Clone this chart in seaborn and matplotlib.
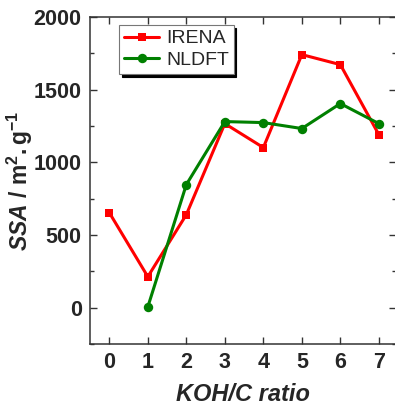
import matplotlib
matplotlib.use("Agg")
import matplotlib.pyplot as plt
import seaborn as sns
import pandas as pd

ratio_irena = [0, 1, 2, 3, 4, 5, 6, 7]
ssa_irena = [654, 213, 640, 1267, 1102, 1742, 1673, 1191]
ratio_nldft = [1, 2, 3, 4, 5, 6, 7]
ssa_nldft = [5, 847, 1281, 1274, 1233, 1405, 1267]
series_names = ["IRENA", "NLDFT"]
x_ticks = [0, 1, 2, 3, 4, 5, 6, 7]
y_ticks = [0, 500, 1000, 1500, 2000]

sns.set_style("ticks")
plt.rcParams['font.family'] = ['Liberation Sans', 'DejaVu Sans']
plt.rcParams['mathtext.fontset'] = 'custom'
plt.rcParams['mathtext.rm'] = 'Liberation Sans'
plt.rcParams['mathtext.it'] = 'Liberation Sans:italic'
plt.rcParams['mathtext.bf'] = 'Liberation Sans:bold'
plt.rcParams['mathtext.bfit'] = 'Liberation Sans:bold:italic'

df1 = pd.DataFrame({"ratio": ratio_irena, "ssa": ssa_irena})
df2 = pd.DataFrame({"ratio": ratio_nldft, "ssa": ssa_nldft})

fig = plt.figure(figsize=(3.95, 4.08), dpi=100)
ax = fig.add_axes([0.228, 0.157, 0.775, 0.801])

sns.lineplot(data=df1, x="ratio", y="ssa", ax=ax, color="#ff0000", lw=2.2,
             marker="s", markersize=6, markeredgewidth=0, label=series_names[0])
sns.lineplot(data=df2, x="ratio", y="ssa", ax=ax, color="#008000", lw=2.2,
             marker="o", markersize=6.8, markeredgewidth=0, label=series_names[1])

ax.set_xlim(-0.5, 7.45)
ax.set_ylim(-250, 2000)
ax.set_xticks(x_ticks)
ax.set_yticks(y_ticks)
ax.set_yticks([-250, 250, 750, 1250, 1750], minor=True)
ax.tick_params(axis="both", which="both", direction="in", top=True, right=True,
               width=1.0, color="#333333")
ax.tick_params(axis="both", which="major", length=5, labelsize=15.5, pad=6)
ax.tick_params(axis="both", which="minor", length=3)
for lbl in ax.get_xticklabels() + ax.get_yticklabels():
    lbl.set_fontweight("bold")
for s in ax.spines.values():
    s.set_linewidth(1.1)
    s.set_color("#333333")

ax.set_xlabel("KOH/C ratio", fontsize=17, fontweight="bold", style="italic", labelpad=7)
ax.set_ylabel(r"$\mathbfit{SSA}$ $\mathbf{/\ m^{2}.g^{-1}}$", fontsize=16.5)
ax.yaxis.set_label_coords(-0.18, 0.5)

leg = ax.legend(loc="upper left", bbox_to_anchor=(0.07, 1.0), fontsize=14,
                frameon=True, fancybox=False, shadow={"color": "black", "alpha": 1},
                handlelength=1.8, borderpad=0.25, labelspacing=0.2, handletextpad=0.35,
                borderaxespad=0.4)
leg.get_frame().set_edgecolor("#777777")
leg.get_frame().set_linewidth(0.8)

fig.savefig("out.png", dpi=100)
